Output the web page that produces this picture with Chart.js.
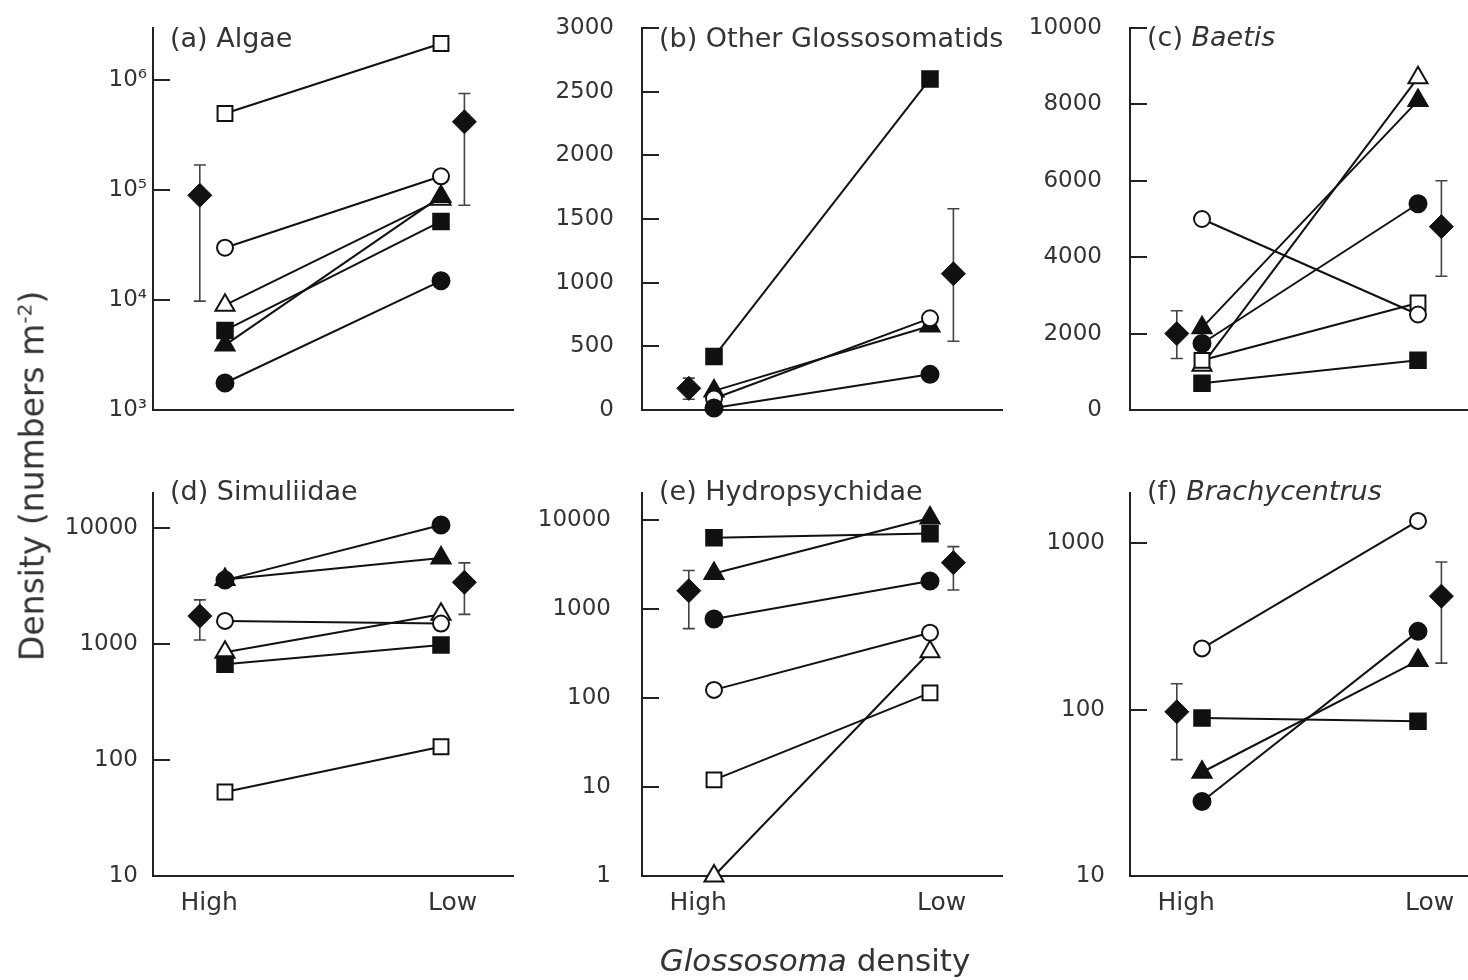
<!DOCTYPE html>
<html>
<head>
<meta charset="utf-8">
<script src="https://cdn.jsdelivr.net/npm/chart.js@4.4.1/dist/chart.umd.min.js"></script>
<style>
 body{margin:0;background:#fff;width:1468px;height:980px;overflow:hidden;position:relative;font-family:'DejaVu Sans',sans-serif;color:#333}
 .panel{position:absolute}
 .panel canvas{display:block}
 #ylab{position:absolute;left:32px;top:476px;transform:translate(-50%,-50%) rotate(-90deg);font-size:33px;white-space:nowrap}
 #ylab sup{font-size:20px}
 #xlab{position:absolute;left:815px;top:960px;transform:translate(-50%,-50%);font-size:31px;white-space:nowrap}
</style>
</head>
<body>
<div class="panel" style="left:43px;top:8px"><canvas id="pa" width="483" height="472"></canvas></div>
<div class="panel" style="left:532px;top:8px"><canvas id="pb" width="483" height="472"></canvas></div>
<div class="panel" style="left:1020px;top:8px"><canvas id="pc" width="483" height="472"></canvas></div>
<div class="panel" style="left:43px;top:473px"><canvas id="pd" width="483" height="473"></canvas></div>
<div class="panel" style="left:532px;top:473px"><canvas id="pe" width="483" height="473"></canvas></div>
<div class="panel" style="left:1020px;top:473px"><canvas id="pf" width="483" height="473"></canvas></div>
<div id="ylab">Density (numbers m<sup>-2</sup>)</div>
<div id="xlab"><i>Glossosoma</i> density</div>
<script>
//Groups on the x axis
const grupos = ['High', 'Low'];

//Series order: filled circle, open circle, filled square, open square, filled triangle, open triangle
//(a) Algae
const algaeHigh = [1760, 30000, 5300, 500000, 3900, 9000];
const algaeLow = [15000, 134000, 52000, 2170000, 88000, 83000];
const algaeMean = [90000, 420000];
const algaeErrLo = [9800, 73000];
const algaeErrHi = [170000, 760000];
const ticksA = [1e3, 1e4, 1e5, 1e6];
const tickLabelsA = ['10³', '10⁴', '10⁵', '10⁶'];

//(b) Other Glossosomatids
const glossoHigh = [15, 90, 420, null, 150, null];
const glossoLow = [280, 720, 2600, null, 660, null];
const glossoMean = [170, 1070];
const glossoErrLo = [85, 540];
const glossoErrHi = [250, 1580];
const ticksB = [0, 500, 1000, 1500, 2000, 2500, 3000];
const tickLabelsB = ['0', '500', '1000', '1500', '2000', '2500', '3000'];

//(c) Baetis
const baetisHigh = [1740, 5000, 700, 1300, 2150, 1170];
const baetisLow = [5400, 2500, 1300, 2800, 8100, 8700];
const baetisMean = [2000, 4800];
const baetisErrLo = [1350, 3500];
const baetisErrHi = [2600, 6000];
const ticksC = [0, 2000, 4000, 6000, 8000, 10000];
const tickLabelsC = ['0', '2000', '4000', '6000', '8000', '10000'];

//(d) Simuliidae
const simulHigh = [3550, 1580, 670, 53, 3600, 850];
const simulLow = [10600, 1500, 980, 130, 5500, 1800];
const simulMean = [1740, 3400];
const simulErrLo = [1080, 1800];
const simulErrHi = [2400, 5000];
const ticksD = [10, 100, 1000, 10000];
const tickLabelsD = ['10', '100', '1000', '10000'];

//(e) Hydropsychidae
const hydroHigh = [770, 123, 6300, 12, 2500, 1];
const hydroLow = [2050, 540, 7000, 114, 10500, 330];
const hydroMean = [1600, 3300];
const hydroErrLo = [600, 1630];
const hydroErrHi = [2700, 5000];
const ticksE = [1, 10, 100, 1000, 10000];
const tickLabelsE = ['1', '10', '100', '1000', '10000'];

//(f) Brachycentrus
const brachyHigh = [28, 233, 89, null, 42, null];
const brachyLow = [295, 1360, 85, null, 197, null];
const brachyMean = [97, 480];
const brachyErrLo = [50, 190];
const brachyErrHi = [143, 770];
const ticksF = [10, 100, 1000];
const tickLabelsF = ['10', '100', '1000'];

//Marker look for each series
const marcadores = [
 {style: 'circle', radius: 8.5, fill: '#111'},
 {style: 'circle', radius: 8, fill: '#fff'},
 {style: 'rect', radius: 11, fill: '#111'},
 {style: 'rect', radius: 10.5, fill: '#fff'},
 {style: 'triangle', radius: 11, fill: '#111'},
 {style: 'triangle', radius: 11, fill: '#fff'}
];

//Positions along the x axis (0..1)
const xMeanHigh = 0.13, xHigh = 0.2, xLow = 0.8, xMeanLow = 0.865;
const xLabelPos = [0.156, 0.832];

Chart.defaults.font.family = "'DejaVu Sans', sans-serif";

const panels = [
 {canvas: 'pa', title: [['(a) Algae', false]], log: true, min: 1e3, max: 3e6, ticks: ticksA, labels: tickLabelsA,
  high: algaeHigh, low: algaeLow, mean: algaeMean, lo: algaeErrLo, hi: algaeErrHi, pad: 6, bottom: false, titleDy: 12},
 {canvas: 'pb', title: [['(b) Other Glossosomatids', false]], log: false, min: 0, max: 3000, ticks: ticksB, labels: tickLabelsB,
  high: glossoHigh, low: glossoLow, mean: glossoMean, lo: glossoErrLo, hi: glossoErrHi, pad: 28, bottom: false, titleDy: 12},
 {canvas: 'pc', title: [['(c) ', false], ['Baetis', true]], log: false, min: 0, max: 10000, ticks: ticksC, labels: tickLabelsC,
  high: baetisHigh, low: baetisLow, mean: baetisMean, lo: baetisErrLo, hi: baetisErrHi, pad: 28, bottom: false, titleDy: 11},
 {canvas: 'pd', title: [['(d) Simuliidae', false]], log: true, min: 10, max: 2e4, ticks: ticksD, labels: tickLabelsD,
  high: simulHigh, low: simulLow, mean: simulMean, lo: simulErrLo, hi: simulErrHi, pad: 15, bottom: true, titleDy: 0},
 {canvas: 'pe', title: [['(e) Hydropsychidae', false]], log: true, min: 1, max: 2e4, ticks: ticksE, labels: tickLabelsE,
  high: hydroHigh, low: hydroLow, mean: hydroMean, lo: hydroErrLo, hi: hydroErrHi, pad: 31, bottom: true, titleDy: 0},
 {canvas: 'pf', title: [['(f) ', false], ['Brachycentrus', true]], log: true, min: 10, max: 2e3, ticks: ticksF, labels: tickLabelsF,
  high: brachyHigh, low: brachyLow, mean: brachyMean, lo: brachyErrLo, hi: brachyErrHi, pad: 25, bottom: true, titleDy: 0}
];

//Draws one panel
function renderPanel(p) {
 const datasets = [];
 for (let i = 0; i < p.high.length; i++) {
  if (p.high[i] == null) continue;
  const m = marcadores[i];
  datasets.push({
   data: [{x: xHigh, y: p.high[i]}, {x: xLow, y: p.low[i]}],
   showLine: true, borderColor: '#111', borderWidth: 2,
   pointStyle: m.style, pointRadius: m.radius, pointBackgroundColor: m.fill,
   pointBorderColor: '#111', pointBorderWidth: 2, clip: false
  });
 }
 //Means with diamonds
 datasets.push({
  data: [{x: xMeanHigh, y: p.mean[0]}, {x: xMeanLow, y: p.mean[1]}],
  showLine: false, pointStyle: 'rectRot', pointRadius: 12,
  pointBackgroundColor: '#111', pointBorderColor: '#111', pointBorderWidth: 1, clip: false
 });

 //Error bars, inward ticks and the panel title
 const deco = {
  id: 'deco',
  beforeDatasetsDraw(chart) {
   const ctx = chart.ctx, xs = chart.scales.x, ys = chart.scales.y;
   ctx.save();
   ctx.strokeStyle = '#444';
   ctx.lineWidth = 1.6;
   [xMeanHigh, xMeanLow].forEach((xv, k) => {
    const x = xs.getPixelForValue(xv);
    const y1 = ys.getPixelForValue(p.lo[k]), y2 = ys.getPixelForValue(p.hi[k]);
    ctx.beginPath();
    ctx.moveTo(x, y1); ctx.lineTo(x, y2);
    ctx.moveTo(x - 6, y1); ctx.lineTo(x + 6, y1);
    ctx.moveTo(x - 6, y2); ctx.lineTo(x + 6, y2);
    ctx.stroke();
   });
   ctx.restore();
  },
  afterDatasetsDraw(chart) {
   const ctx = chart.ctx, ys = chart.scales.y, area = chart.chartArea;
   ctx.save();
   ctx.strokeStyle = '#222';
   ctx.lineWidth = 2;
   p.ticks.forEach(v => {
    const y = Math.round(ys.getPixelForValue(v));
    ctx.beginPath();
    ctx.moveTo(area.left, y); ctx.lineTo(area.left + 17, y);
    ctx.stroke();
   });
   let x = area.left + 17;
   const y = area.top + p.titleDy;
   ctx.fillStyle = '#333';
   ctx.textBaseline = 'middle';
   p.title.forEach(part => {
    ctx.font = (part[1] ? 'italic ' : '') + "27px 'DejaVu Sans'";
    ctx.fillText(part[0], x, y);
    x += ctx.measureText(part[0]).width;
   });
   ctx.restore();
  }
 };

 new Chart(document.getElementById(p.canvas), {
  type: 'scatter',
  data: {datasets: datasets},
  options: {
   responsive: false, animation: false, events: [],
   layout: {padding: {top: 20, right: 10, bottom: 0, left: 0}},
   plugins: {legend: {display: false}, tooltip: {enabled: false}},
   scales: {
    x: {
     type: 'linear', min: 0, max: 1,
     afterBuildTicks: s => { s.ticks = xLabelPos.map(v => ({value: v})); },
     afterFit: s => { s.height = 70; s.paddingLeft = 0; s.paddingRight = 0; },
     grid: {display: false, drawTicks: false},
     border: {display: true, color: '#222', width: 2},
     ticks: {display: p.bottom, padding: 12, color: '#333', font: {size: 25}, autoSkip: false, maxRotation: 0,
      callback: (v, i) => grupos[i]}
    },
    y: {
     type: p.log ? 'logarithmic' : 'linear', min: p.min, max: p.max,
     afterBuildTicks: s => { s.ticks = p.ticks.map(v => ({value: v})); },
     afterFit: s => { s.width = 110; s.paddingTop = 0; s.paddingBottom = 0; },
     grid: {display: false, drawTicks: false},
     border: {display: true, color: '#222', width: 2},
     ticks: {padding: p.pad, color: '#333', font: {size: 23}, autoSkip: false,
      callback: (v, i) => p.labels[i]}
    }
   }
  },
  plugins: [deco]
 });
}

panels.forEach(renderPanel);
</script>
</body>
</html>
